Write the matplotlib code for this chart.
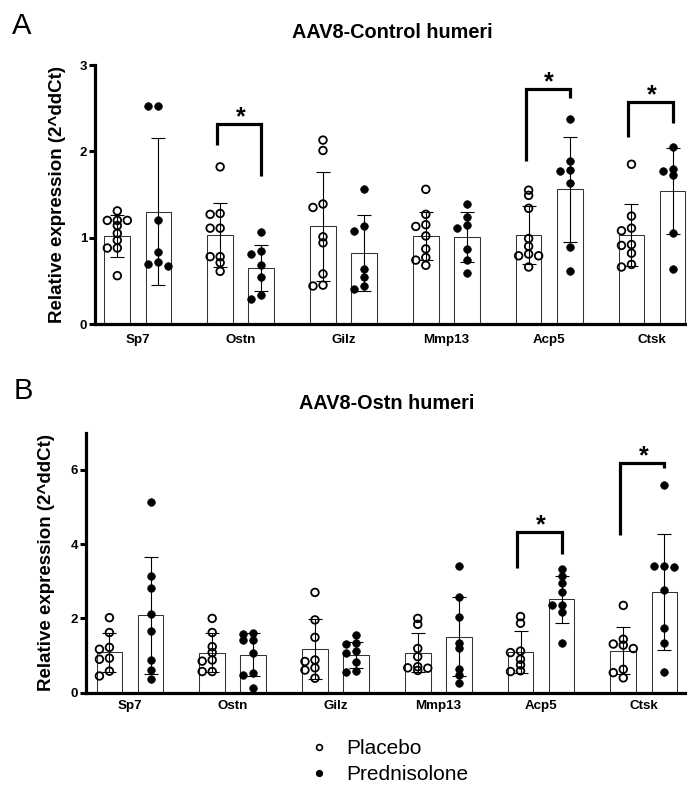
import numpy as np
import matplotlib
matplotlib.use("Agg")
import matplotlib.pyplot as plt
from matplotlib.lines import Line2D

plt.rcParams['font.family'] = ['Liberation Sans', 'DejaVu Sans']
plt.rcParams['font.weight'] = 'bold'

genes = ["Sp7", "Ostn", "Gilz", "Mmp13", "Acp5", "Ctsk"]
groups = ["Placebo", "Prednisolone"]

# ---------------- Panel A: AAV8-Control humeri ----------------
a_title = "AAV8-Control humeri"
a_yticks = [0, 1, 2, 3]
a_mean_placebo = [1.02, 1.03, 1.13, 1.02, 1.03, 1.03]
a_sd_placebo = [0.24, 0.37, 0.63, 0.28, 0.34, 0.36]
a_mean_pred = [1.30, 0.65, 0.82, 1.01, 1.56, 1.54]
a_sd_pred = [0.85, 0.27, 0.44, 0.29, 0.61, 0.50]
a_pts_placebo = [
    [1.31, 1.20, 1.20, 1.20, 1.14, 1.05, 0.97, 0.88, 0.88, 0.56],
    [1.82, 1.28, 1.27, 1.11, 1.11, 0.78, 0.78, 0.71, 0.61],
    [2.13, 2.01, 1.39, 1.35, 1.01, 0.94, 0.58, 0.45, 0.44],
    [1.56, 1.27, 1.15, 1.13, 1.02, 0.87, 0.77, 0.74, 0.68],
    [1.55, 1.49, 1.34, 0.99, 0.90, 0.81, 0.79, 0.79, 0.66],
    [1.85, 1.25, 1.11, 1.08, 0.92, 0.91, 0.82, 0.69, 0.66],
]
a_pts_pred = [
    [2.53, 2.53, 1.20, 0.83, 0.72, 0.70, 0.67],
    [1.06, 0.85, 0.81, 0.68, 0.55, 0.34, 0.29],
    [1.56, 1.13, 1.08, 0.64, 0.54, 0.44, 0.40],
    [1.39, 1.24, 1.15, 1.11, 0.87, 0.74, 0.59],
    [2.38, 1.89, 1.78, 1.77, 1.63, 0.89, 0.61],
    [2.05, 1.80, 1.77, 1.73, 1.05, 0.64],
]
# significance brackets: gene index, left leg bottom, right leg bottom, top
a_sig_gene = [1, 4, 5]
a_sig_left = [2.07, 1.89, 2.17]
a_sig_right = [1.72, 2.62, 2.33]
a_sig_top = [2.32, 2.72, 2.57]

# ---------------- Panel B: AAV8-Ostn humeri ----------------
b_title = "AAV8-Ostn humeri"
b_yticks = [0, 2, 4, 6]
b_mean_placebo = [1.09, 1.08, 1.18, 1.08, 1.09, 1.13]
b_sd_placebo = [0.52, 0.52, 0.80, 0.52, 0.56, 0.63]
b_mean_pred = [2.08, 1.02, 1.02, 1.51, 2.52, 2.72]
b_sd_pred = [1.58, 0.58, 0.35, 1.07, 0.63, 1.56]
b_pts_placebo = [
    [2.02, 1.62, 1.22, 1.17, 0.93, 0.90, 0.58, 0.45],
    [2.00, 1.62, 1.24, 1.08, 0.88, 0.85, 0.57, 0.57],
    [2.70, 1.96, 1.49, 0.88, 0.84, 0.67, 0.61, 0.39],
    [2.00, 1.84, 1.19, 0.97, 0.70, 0.67, 0.66, 0.60],
    [2.05, 1.87, 1.12, 1.08, 0.90, 0.75, 0.59, 0.57],
    [2.35, 1.44, 1.31, 1.28, 1.19, 0.63, 0.54, 0.40],
]
b_pts_pred = [
    [5.13, 3.15, 2.81, 2.11, 1.66, 0.88, 0.61, 0.37],
    [1.62, 1.57, 1.42, 1.42, 1.08, 0.52, 0.48, 0.14],
    [1.55, 1.35, 1.31, 1.13, 1.06, 0.84, 0.59, 0.57],
    [3.40, 2.59, 2.05, 1.35, 1.21, 0.63, 0.48, 0.25],
    [3.32, 3.15, 2.95, 2.72, 2.36, 2.36, 2.16, 1.33],
    [5.58, 3.41, 3.40, 3.38, 2.77, 1.73, 1.33, 0.55],
]
b_sig_gene = [4, 5]
b_sig_left = [3.35, 4.25]
b_sig_right = [3.74, 6.05]
b_sig_top = [4.32, 6.18]

W, H = 687, 792
fig = plt.figure(figsize=(W / 100, H / 100), dpi=100)

OFF = 0.2
BW = 0.25


def swarm_offsets(ax, vals, step_px=10.0, min_px=5.0):
    bbox = ax.get_position()
    x0, x1 = ax.get_xlim()
    y0, y1 = ax.get_ylim()
    xpx = bbox.width * W / (x1 - x0)
    ypx = bbox.height * H / (y1 - y0)
    order = np.argsort(-np.asarray(vals), kind="stable")
    placed = []
    offs = np.zeros(len(vals))
    for i in order:
        yp = vals[i] * ypx
        best_k, best_d = 0, -1.0
        for k in [0, -1, 1]:
            xp = k * step_px
            d = min([np.hypot(xp - px, yp - py) for px, py in placed] + [1e9])
            if d >= min_px:
                best_k = k
                break
            if d > best_d:
                best_k, best_d = k, d
        xp = best_k * step_px
        placed.append((xp, yp))
        offs[i] = xp / xpx
    return offs


def panel(rect, xlim, ylim, yticks, mp, sp, md, sd, pp, pd, sg, sl, sr, st, xpad):
    ax = fig.add_axes(rect)
    ax.set_xlim(*xlim)
    ax.set_ylim(*ylim)
    x = np.arange(len(genes))
    xp = x - OFF
    xd = x + OFF
    ax.bar(xp, mp, width=BW, color="white", edgecolor="#333333", linewidth=0.75, zorder=1)
    ax.bar(xd, md, width=BW, color="white", edgecolor="#333333", linewidth=0.75, zorder=1)
    for i in range(len(genes)):
        op = swarm_offsets(ax, pp[i])
        ax.scatter(xp[i] + op, pp[i], s=30, facecolors="none", edgecolors="black",
                   linewidths=1.3, zorder=2)
        od = swarm_offsets(ax, pd[i])
        ax.scatter(xd[i] + od, pd[i], s=30, facecolors="black", edgecolors="black",
                   linewidths=0.5, zorder=2)
    ax.errorbar(xp, mp, yerr=sp, fmt="none", ecolor="black", elinewidth=0.8,
                capsize=4.7, capthick=0.8, zorder=3)
    ax.errorbar(xd, md, yerr=sd, fmt="none", ecolor="black", elinewidth=0.8,
                capsize=4.7, capthick=0.8, zorder=3)
    for g, l, r, t in zip(sg, sl, sr, st):
        ax.plot([xp[g] - 0.03, xp[g] - 0.03, xd[g], xd[g]], [l, t, t, r], color="black",
                linewidth=2.3, solid_joinstyle="miter", solid_capstyle="butt", zorder=4)
        ax.annotate("*", xy=((xp[g] + xd[g]) / 2, t), xytext=(0, 10 - 0.575 * 18),
                    textcoords="offset points", ha="center", va="baseline",
                    fontsize=18, fontweight="bold", zorder=5)
    for s in ["top", "right"]:
        ax.spines[s].set_visible(False)
    for s in ["left", "bottom"]:
        ax.spines[s].set_linewidth(2.3)
    ax.set_xticks(x)
    ax.set_xticklabels(genes, fontsize=9.6, fontweight="bold")
    ax.set_yticks(yticks)
    ax.set_yticklabels([str(v) for v in yticks], fontsize=9.5, fontweight="bold")
    ax.tick_params(axis="x", length=0, pad=xpad)
    ax.tick_params(axis="y", length=4.5, width=2.2, pad=1.2)
    ax.patch.set_alpha(0)
    return ax


axA = panel([95 / W, 1 - 324 / H, (W - 95) / W, (324 - 65) / H],
            (-0.417, 5.34), (0, 3), a_yticks,
            a_mean_placebo, a_sd_placebo, a_mean_pred, a_sd_pred,
            a_pts_placebo, a_pts_pred, a_sig_gene, a_sig_left, a_sig_right, a_sig_top, 7.0)
axB = panel([86 / W, 1 - 692.7 / H, (W - 86) / W, (692.7 - 432.7) / H],
            (-0.428, 5.42), (0, 7), b_yticks,
            b_mean_placebo, b_sd_placebo, b_mean_pred, b_sd_pred,
            b_pts_placebo, b_pts_pred, b_sig_gene, b_sig_left, b_sig_right, b_sig_top, 5.5)

ylab = "Relative expression (2^ddCt)"
fig.text(57 / W, 1 - 194.5 / H, ylab, rotation=90, ha="center", va="center",
         fontsize=13.5, fontweight="bold")
fig.text(47 / W, 1 - 562.7 / H, ylab, rotation=90, ha="center", va="center",
         fontsize=13.5, fontweight="bold")

fig.text(392 / W, 1 - 37.5 / H, a_title, ha="center", va="baseline", fontsize=14.3, fontweight="bold")
fig.text(387 / W, 1 - 409 / H, b_title, ha="center", va="baseline", fontsize=14.3, fontweight="bold")

fig.text(12 / W, 1 - 34 / H, "A", ha="left", va="baseline", fontsize=21, fontweight="normal")
fig.text(14 / W, 1 - 399 / H, "B", ha="left", va="baseline", fontsize=21, fontweight="normal")

handles = [Line2D([], [], linestyle="none", marker="o", markersize=4.2, markerfacecolor="none",
                  markeredgecolor="black", markeredgewidth=1.2),
           Line2D([], [], linestyle="none", marker="o", markersize=4.2, markerfacecolor="black",
                  markeredgecolor="black")]
fig.legend(handles, groups, loc="upper left", bbox_to_anchor=(310 / W, 1 - 739 / H),
           frameon=False, prop={"family": ["Liberation Sans", "DejaVu Sans"], "weight": "normal", "size": 15},
           handlelength=0.9, handletextpad=0.85, labelspacing=0.36, borderpad=0, borderaxespad=0)

fig.savefig("out.png", dpi=100)
